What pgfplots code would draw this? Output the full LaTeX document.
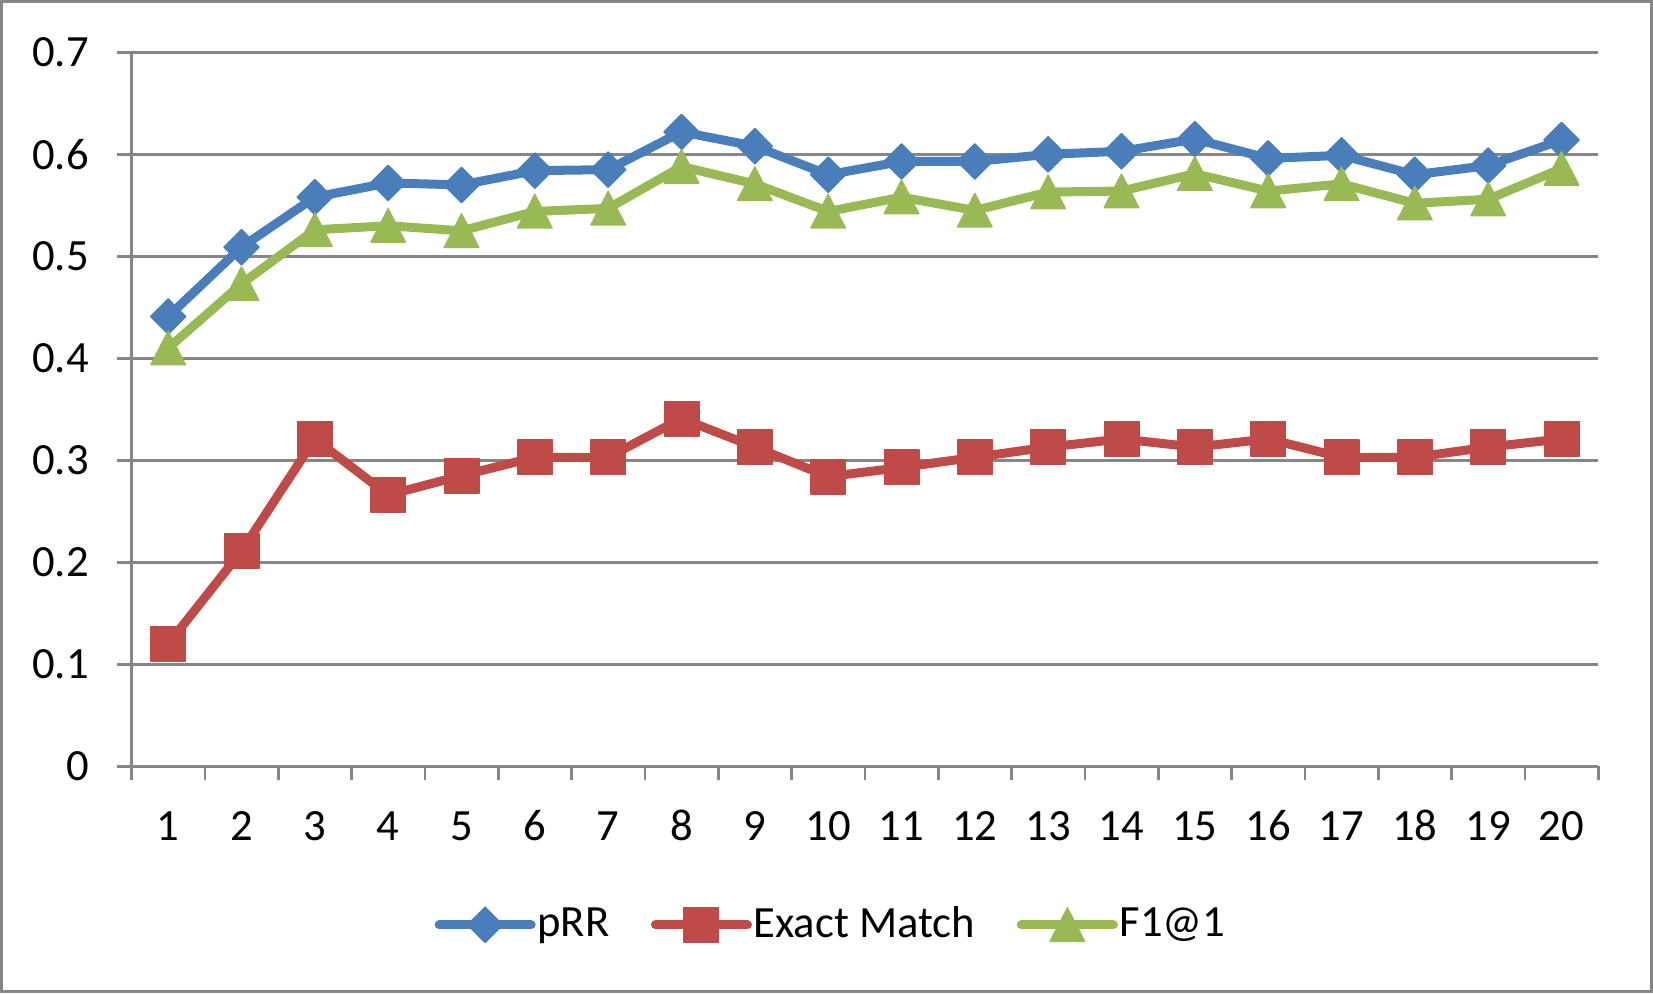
\documentclass[border=0pt]{standalone}
\usepackage{pgfplots}
\pgfplotsset{compat=1.18}
\usepackage{fontspec}
\setmainfont{Carlito}
\definecolor{gridgray}{HTML}{868686}
\definecolor{cblue}{HTML}{4A7EBB}
\definecolor{cred}{HTML}{BE4B48}
\definecolor{cgreen}{HTML}{98B954}
\begin{document}
\begin{tikzpicture}
\useasboundingbox (0,0) rectangle (495.9pt,297.9pt);
\draw[gridgray, line width=1pt] (0.5pt,0.5pt) rectangle (495.4pt,297.4pt);
\begin{axis}[
  at={(39.45pt,68pt)}, anchor=south west,
  scale only axis, width=440pt, height=214.2pt,
  xmin=0.5, xmax=20.5, ymin=0, ymax=0.7,
  axis lines*=left,
  axis line style={-, gridgray, line width=0.8pt},
  xtick={1,...,20},
  minor xtick={0.5,1.5,...,20.5},
  major x tick style={draw=none},
  ytick={0,0.1,...,0.7},
  tick align=outside,
  major tick length=4.2pt, minor tick length=4.2pt,
  tick style={gridgray, line width=0.8pt},
  ymajorgrids, major grid style={gridgray, line width=0.7pt},
  /pgf/number format/assume math mode=true,
  yticklabel style={/pgf/number format/fixed, /pgf/number format/precision=1, anchor=east, inner sep=0pt, xshift=-8.4pt},
  xticklabel style={anchor=north, inner sep=0pt, text height=8.5pt, yshift=-9.2pt},
  ticklabel style={font=\fontsize{13.4}{15}\selectfont},
  legend style={draw=none, fill=none, at={(0.4768,-0.222)}, anchor=center,
    legend columns=-1, font=\fontsize{13.4}{15}\selectfont,
    nodes={inner xsep=0.5pt, inner ysep=0pt},
    /tikz/every even column/.append style={column sep=12pt}},
  legend image code/.code={\draw[mark repeat=2, mark phase=2, #1] plot coordinates {(0pt,0pt) (13.8pt,0pt) (27.6pt,0pt)};},
  every axis plot/.append style={line width=2.7pt, line cap=round, line join=round},
]
\addplot[cblue, mark=diamond*, mark size=5.3pt, mark options={solid, line width=0.4pt, xscale=1.33}] coordinates {
(1,0.441) (2,0.509) (3,0.558) (4,0.572) (5,0.570) (6,0.584) (7,0.585) (8,0.622) (9,0.608) (10,0.580)
(11,0.593) (12,0.593) (13,0.600) (14,0.603) (15,0.615) (16,0.596) (17,0.599) (18,0.580) (19,0.589) (20,0.614)};
\addlegendentry{pRR}
\addplot[cred, mark=square*, mark size=5.2pt, mark options={solid, line width=0.4pt}] coordinates {
(1,0.120) (2,0.211) (3,0.321) (4,0.266) (5,0.285) (6,0.303) (7,0.303) (8,0.341) (9,0.313) (10,0.284)
(11,0.293) (12,0.303) (13,0.313) (14,0.321) (15,0.313) (16,0.321) (17,0.303) (18,0.303) (19,0.313) (20,0.321)};
\addlegendentry{Exact Match}
\addplot[cgreen, mark=triangle*, mark size=6pt, mark options={solid, line width=0.4pt, yshift=-1.6pt, yscale=1.12}] coordinates {
(1,0.410) (2,0.473) (3,0.526) (4,0.530) (5,0.525) (6,0.544) (7,0.547) (8,0.588) (9,0.571) (10,0.544)
(11,0.558) (12,0.545) (13,0.563) (14,0.564) (15,0.581) (16,0.564) (17,0.571) (18,0.552) (19,0.556) (20,0.586)};
\addlegendentry{F1@1}
\end{axis}
\end{tikzpicture}
\end{document}
